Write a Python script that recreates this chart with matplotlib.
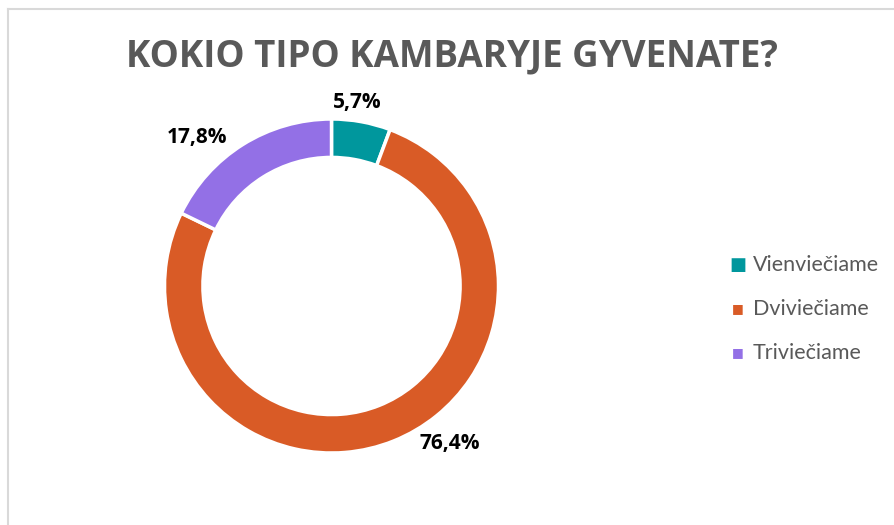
import numpy as np
import matplotlib.pyplot as plt
from matplotlib.lines import Line2D

# Duomenys
kategorijos = ["Vienviečiame", "Dviviečiame", "Triviečiame"]
procentai = [5.7, 76.4, 17.8]
etiketes = ["5,7%", "76,4%", "17,8%"]
spalvos = ["#00979D", "#D95B26", "#9370E6"]

W, H = 895, 525
fig = plt.figure(figsize=(W / 100, H / 100), dpi=100)

# rėmelis
fig.add_artist(Line2D([8 / W, 8 / W], [0, 1 - 8.5 / H], color="#D9D9D9", lw=1.5))
fig.add_artist(Line2D([8 / W, 1], [1 - 8.5 / H, 1 - 8.5 / H], color="#D9D9D9", lw=1.5))

# ašys taip, kad centras būtų ~ (331.5, 286) px, spindulys ~167 px
R = 167
lim = 1.3
cx, cy = 331.5, H - 286
ax = fig.add_axes([(cx - lim * R) / W, (cy - lim * R) / H, 2 * lim * R / W, 2 * lim * R / H])

wedges, _ = ax.pie(procentai, colors=spalvos, startangle=90, counterclock=False,
                   radius=1, wedgeprops=dict(width=0.23, edgecolor="white", linewidth=2.5))
ax.set_xlim(-lim, lim)
ax.set_ylim(-lim, lim)
ax.axis("off")

# etikečių vietos (kampas, atstumas)
pozicijos = [(82, 1.11), (-53, 1.18), (132, 1.2)]
for (kamp, r), txt in zip(pozicijos, etiketes):
    a = np.deg2rad(kamp)
    ax.text(r * np.cos(a), r * np.sin(a), txt, ha="center", va="center",
            fontsize=15, fontweight="bold", color="black", family="Open Sans")

fig.text(452 / W, 1 - 56 / H, "KOKIO TIPO KAMBARYJE GYVENATE?", ha="center", va="center",
         fontsize=26.5, fontweight="bold", color="#595959", family="Open Sans")

# legenda
dydziai = [13, 9, 9]
for i, (kat, sp) in enumerate(zip(kategorijos, spalvos)):
    y = 1 - (265 + 44 * i) / H
    fig.text(738 / W, y, "■", ha="center", va="center", fontsize=dydziai[i], color=sp, family="DejaVu Sans")
    fig.text(753 / W, y, kat, ha="left", va="center", fontsize=15.5, color="#595959", family="Lato")

plt.savefig("out.png", dpi=100)
